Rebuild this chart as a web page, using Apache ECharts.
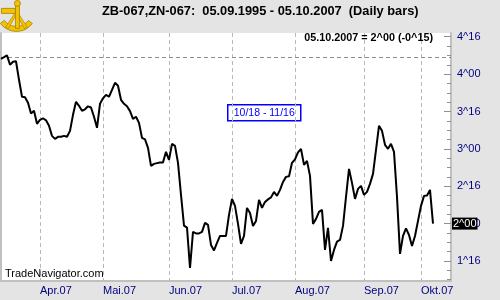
<!DOCTYPE html>
<html><head><meta charset="utf-8">
<script src="https://cdn.jsdelivr.net/npm/echarts@6/dist/echarts.min.js"></script>
<style>html,body{margin:0;padding:0;background:#e4e4e4}#c{width:500px;height:300px}</style>
</head><body><div id="c"></div>
<script>
// ---- data ----
const startDate = '2007-03-14';
const endDate = '2007-10-15';
const holidays = ['2007-05-28', '2007-07-04', '2007-09-03'];
const monthNames = ['Jan','Feb','Mär','Apr','Mai','Jun','Jul','Aug','Sep','Okt','Nov','Dez'];
// daily spread values (ZB-ZN), one per trading day from 2007-03-14 to 2007-10-05
const spread = [
  4.205, 4.226, 4.250, 4.125, 4.165, 4.172, 3.924, 3.697, 3.690, 3.616,
  3.473, 3.509, 3.335, 3.389, 3.409, 3.382, 3.308, 3.174, 3.134, 3.161,
  3.161, 3.174, 3.161, 3.241, 3.455, 3.630, 3.576, 3.509, 3.529, 3.569,
  3.553, 3.429, 3.281, 3.603, 3.676, 3.723, 3.697, 3.790, 3.884, 3.844,
  3.656, 3.603, 3.569, 3.505, 3.402, 3.429, 3.348, 3.147, 3.127, 3.014,
  2.772, 2.799, 2.809, 2.817, 2.819, 2.960, 2.853, 3.067, 3.040, 2.813,
  2.384, 1.973, 1.946, 1.406, 1.889, 1.869, 1.869, 1.889, 2.009, 1.982,
  1.715, 1.641, 1.741, 1.835, 1.835, 1.835, 2.116, 2.331, 2.237, 1.996,
  1.728, 1.835, 2.210, 2.143, 1.969, 2.036, 2.317, 2.210, 2.290, 2.324,
  2.351, 2.424, 2.371, 2.451, 2.558, 2.625, 2.632, 2.813, 2.860, 2.953,
  3.000, 2.786, 2.839, 2.639, 1.996, 2.063, 2.156, 2.183, 1.648, 1.942,
  1.500, 1.648, 1.759, 1.781, 1.969, 2.357, 2.732, 2.545, 2.331, 2.464,
  2.505, 2.384, 2.424, 2.531, 2.665, 2.987, 3.308, 3.241, 3.054, 3.000,
  3.067, 2.960, 2.357, 1.594, 1.835, 1.935, 1.848, 1.701, 1.835, 2.036,
  2.237, 2.371, 2.377, 2.451, 2.000
];
const yLabelTicks = [1.5, 2, 2.5, 3, 3.5, 4, 4.5];
const yMinorTicks = [1.25, 1.375, 1.5, 1.625, 1.75, 1.875, 2, 2.125, 2.25, 2.375, 2.5, 2.625, 2.75, 2.875,
  3, 3.125, 3.25, 3.375, 3.5, 3.625, 3.75, 3.875, 4, 4.125, 4.25, 4.375, 4.5];
const refLevel = 4.225;
const titleText = 'ZB-067,ZN-067:  05.09.1995 - 05.10.2007  (Daily bars)';
const infoText = '05.10.2007 = 2^00 (-0^15)';
const boxText = '10/18 - 11/16';
const brandText = 'TradeNavigator.com';

// ---- helpers ----
function buildDates(s, e, h) {
  const out = [];
  let d = new Date(s + 'T00:00:00Z');
  const end = new Date(e + 'T00:00:00Z');
  while (d <= end) {
    const wd = d.getUTCDay();
    const iso = d.toISOString().slice(0, 10);
    if (wd !== 0 && wd !== 6 && !h.includes(iso)) out.push(iso);
    d = new Date(d.getTime() + 86400000);
  }
  return out;
}
const dates = buildDates(startDate, endDate, holidays);
function isMonthStart(i) {
  return i > 0 && dates[i].slice(5, 7) !== dates[i - 1].slice(5, 7);
}
function fmt32(v) {
  let w = Math.floor(v + 1e-9);
  let n = Math.round((v - w) * 32);
  if (n === 32) { w += 1; n = 0; }
  return w + '^' + (n < 10 ? '0' + n : '' + n);
}
const FF = '"Liberation Sans", Arial, sans-serif';
const yMin = 1.232, yMax = 4.55;
const gold = '#f2c400', goldDark = '#a87c00';

const chart = echarts.init(document.getElementById('c'), null, { renderer: 'canvas' });
chart.setOption({
  animation: false,
  backgroundColor: '#e4e4e4',
  grid: { left: 1, right: 49, top: 33, bottom: 19, show: true, backgroundColor: '#ffffff', borderWidth: 0, containLabel: false, outerBoundsMode: 'none' },
  xAxis: {
    type: 'category', data: dates, boundaryGap: false,
    axisLine: { show: true, lineStyle: { color: '#c0c0c0', width: 2 } },
    axisTick: { show: false },
    axisLabel: {
      interval: (i) => isMonthStart(i),
      formatter: (v) => monthNames[+v.slice(5, 7) - 1] + '.' + v.slice(2, 4),
      align: 'left', color: '#000080', fontSize: 11, fontFamily: FF, margin: 4
    },
    splitLine: { show: true, interval: (i) => isMonthStart(i), lineStyle: { color: '#b8b8b8', type: [4, 3], width: 1 } }
  },
  yAxis: [
    {
      type: 'value', position: 'right', min: yMin, max: yMax,
      axisLine: { show: true, lineStyle: { color: '#c0c0c0', width: 2 } },
      axisTick: { show: true, inside: true, length: 7, customValues: yLabelTicks, lineStyle: { color: '#909090' } },
      axisLabel: { show: true, customValues: yLabelTicks, formatter: fmt32, color: '#000080', fontSize: 11, fontFamily: FF, margin: 6 },
      splitLine: { show: false }
    },
    {
      type: 'value', position: 'right', min: yMin, max: yMax,
      axisLine: { show: false },
      axisTick: { show: true, inside: true, length: 4, customValues: yMinorTicks, lineStyle: { color: '#909090' } },
      axisLabel: { show: false },
      splitLine: { show: false }
    },
    {
      type: 'value', position: 'left', min: yMin, max: yMax,
      axisLine: { show: true, lineStyle: { color: '#c0c0c0', width: 2 } },
      axisTick: { show: false }, axisLabel: { show: false }, splitLine: { show: false }
    }
  ],
  series: [{
    type: 'line', data: spread, symbol: 'none', showSymbol: false,
    lineStyle: { color: '#000', width: 2 }, z: 5,
    markLine: {
      symbol: 'none', silent: true, animation: false,
      data: [
        { yAxis: refLevel, lineStyle: { type: [4, 3], color: '#8c8c8c', width: 1 }, label: { show: false } },
        { yAxis: spread[spread.length - 1], lineStyle: { width: 0, color: 'rgba(0,0,0,0)' },
          label: { show: true, position: 'end', distance: 1, formatter: (p) => fmt32(p.value),
                   color: '#fff', backgroundColor: '#000', fontSize: 11, fontFamily: FF, padding: [1, 1, 0, 1] } }
      ]
    }
  }],
  graphic: [
    { type: 'text', left: 102, top: 5, z: 100, style: { text: titleText, fontSize: 12.8, fontWeight: 'bold', fontFamily: FF, fill: '#000' } },
    { type: 'text', right: 67, top: 33, z: 100, style: { text: infoText, fontSize: 10.8, fontWeight: 'bold', fontFamily: FF, fill: '#000' } },
    { type: 'group', left: 227, top: 104, z: 100, children: [
      { type: 'rect', shape: { x: 0, y: 0, width: 73, height: 16 }, style: { fill: '#fff', stroke: '#0000ff', lineWidth: 1.5 } },
      { type: 'text', x: 36.5, y: 8.5, style: { text: boxText, fontSize: 10.5, fontFamily: FF, fill: '#0000ff', align: 'center', verticalAlign: 'middle' } }
    ] },
    { type: 'text', left: 5, top: 268, z: 100, style: { text: brandText, fontSize: 11, fontFamily: FF, fill: '#000' } },
    { type: 'group', left: 0, top: 0, z: 100, children: [
      { type: 'sector', shape: { cx: 19, cy: 13, r: 20, r0: 15, startAngle: 0.65, endAngle: 2.5, clockwise: true }, style: { fill: gold, stroke: goldDark, lineWidth: 0.8 } },
      { type: 'polygon', shape: { points: [[19, 12], [8, 29], [11, 30], [19, 16], [27, 30], [30, 29]] }, style: { fill: gold, stroke: goldDark, lineWidth: 0.6 } },
      { type: 'rect', shape: { x: 4, y: 10, width: 14, height: 5 }, style: { fill: gold, stroke: goldDark, lineWidth: 0.8 } },
      { type: 'rect', shape: { x: 18, y: 4, width: 4, height: 26 }, style: { fill: gold, stroke: goldDark, lineWidth: 0.8 } },
      { type: 'circle', shape: { cx: 20, cy: 5, r: 3 }, style: { fill: gold, stroke: goldDark, lineWidth: 0.8 } }
    ] }
  ]
});
</script>
</body></html>
